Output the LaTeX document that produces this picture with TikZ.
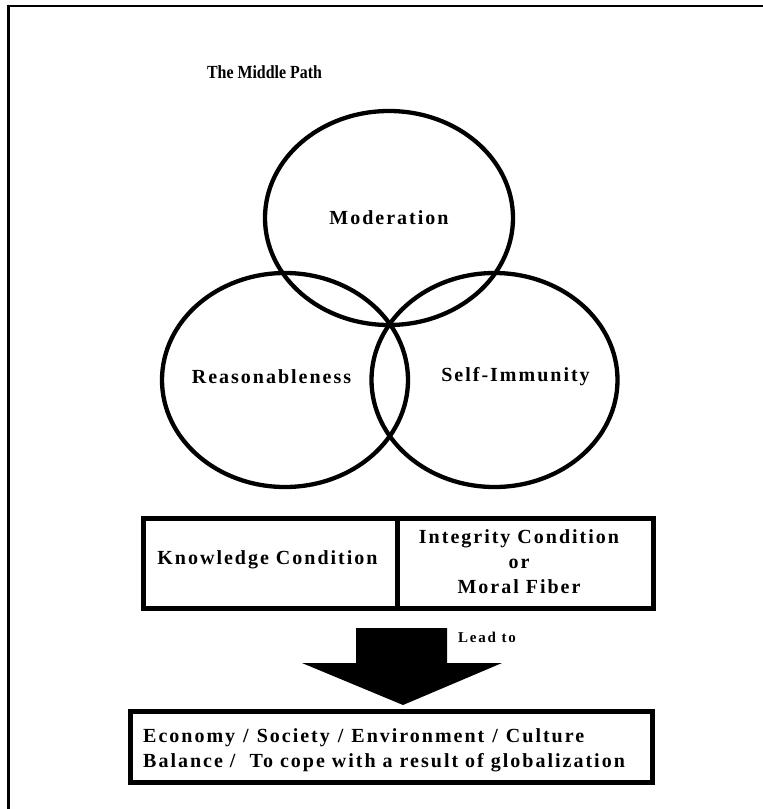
\documentclass[tikz,border=0pt]{standalone}
\usepackage{graphicx}
\usepackage{fontspec}
\setmainfont{Liberation Serif}
\newfontfamily\spfont[LetterSpace=10]{Liberation Serif}
\newfontfamily\leadfont[LetterSpace=12]{Liberation Serif}
\usetikzlibrary{shapes.geometric}
\begin{document}
\begin{tikzpicture}[x=1pt,y=-1pt,
  ring/.style={ellipse, draw, line width=4.3pt, inner sep=0pt, minimum width=246pt, minimum height=214pt},
  lbl/.style={inner sep=0pt, font={\spfont\bfseries\fontsize{20}{25}\selectfont}, align=center},
  cbox/.style={rectangle, draw, line width=5pt, inner sep=0pt, minimum height=90pt}]
\useasboundingbox (0,0) rectangle (763,809);
% frame
\draw[line width=2.2pt] (8.5,809) -- (8.5,6) -- (763,6);
% title
\node[inner sep=0pt, font={\bfseries\fontsize{18.5}{21}\selectfont}] (title) at (264.5,72) {\scalebox{0.86}[1]{The Middle Path}};
% circles
\node[ring, minimum width=248pt] (mod) at (389,218) {};
\node[ring] (rea) at (285,380) {};
\node[ring] (imm) at (494.5,380) {};
\node[lbl] (tmod) at (389,218) {Moderation};
\node[lbl] (trea) at (271.5,377) {Reasonableness};
\node[lbl] (timm) at (515.5,377) {Self-Immunity};
% condition boxes
\node[cbox, minimum width=254pt] (know) at (270,563) {};
\node[cbox, minimum width=256pt] (integ) at (525,563) {};
\node[lbl] (tknow) at (267.5,560) {Knowledge Condition};
\node[lbl] (tinteg) at (519,562) {Integrity Condition\\or\\Moral Fiber};
% block arrow
\fill (356,628) -- (447,628) -- (447,663) -- (502,663) -- (403,705) -- (302,663) -- (356,663) -- cycle;
\node[inner sep=0pt, font={\leadfont\bfseries\fontsize{15}{18}\selectfont}] (lead) at (487,637) {Lead to};
% result box
\node[rectangle, draw, line width=5pt, minimum width=522pt, minimum height=71pt, inner sep=0pt] (res) at (391,746.5) {};
\node[lbl, anchor=west, align=left] (tres) at (143,750) {Economy\hspace{1pt} /\hspace{1pt} Society\hspace{1pt} /\hspace{1pt} Environment\hspace{1pt} /\hspace{1pt} Culture\\Balance /\ \ To cope with a result of globalization};
\end{tikzpicture}
\end{document}
